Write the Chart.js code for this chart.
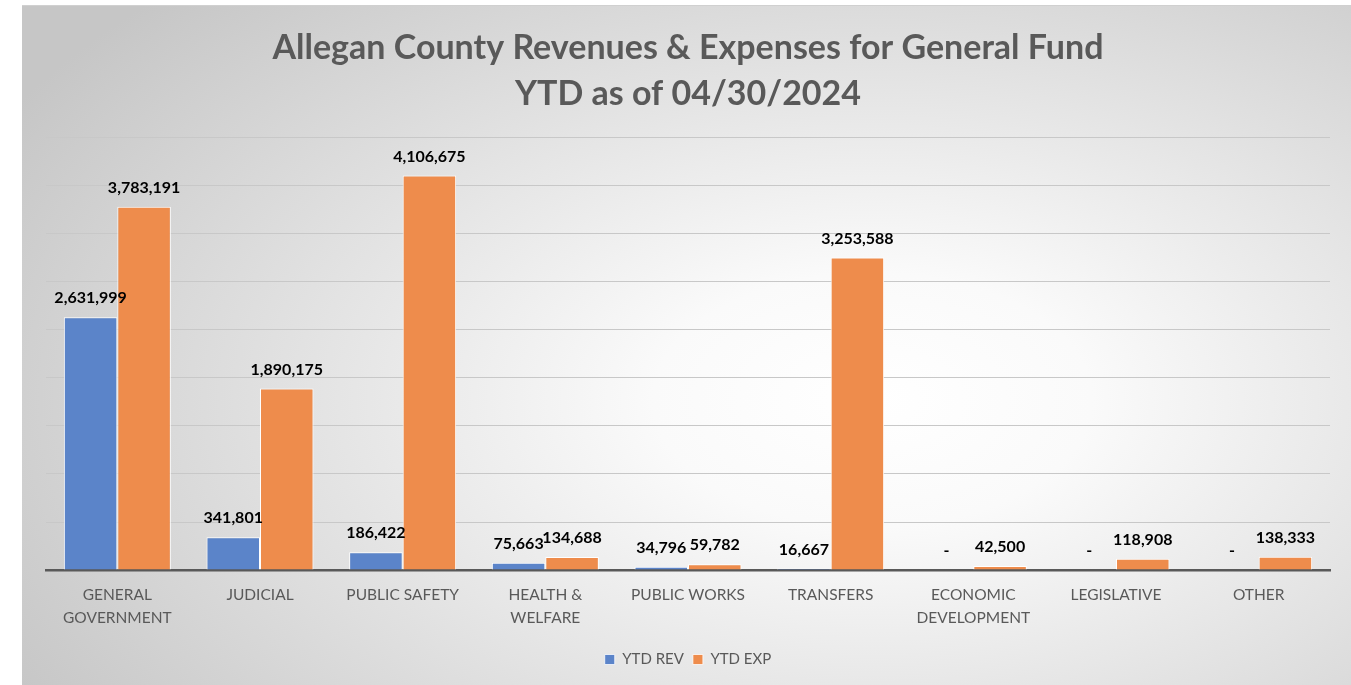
<!DOCTYPE html>
<html>
<head>
<meta charset="utf-8">
<script src="https://cdn.jsdelivr.net/npm/chart.js@4.4.1/dist/chart.umd.min.js"></script>
<style>
html,body{margin:0;padding:0;background:#ffffff;}
#wrap{position:absolute;left:22px;top:5px;width:1329px;height:680px;
background:radial-gradient(ellipse 75% 85% at 64% 58%, #ffffff 0%, #fafafa 22%, #e4e4e4 55%, #c6c6c6 100%);
border-top:1px solid #d0d0d0;box-sizing:border-box;}
canvas{display:block;}
</style>
</head>
<body>
<div id="wrap"><canvas id="c" width="1329" height="679"></canvas></div>
<script>
const titleLines = ['Allegan County Revenues & Expenses for General Fund', 'YTD as of 04/30/2024'];
const categories = [
  ['GENERAL','GOVERNMENT'], 'JUDICIAL', 'PUBLIC SAFETY', ['HEALTH &','WELFARE'],
  'PUBLIC WORKS', 'TRANSFERS', ['ECONOMIC','DEVELOPMENT'], 'LEGISLATIVE', 'OTHER'
];
const seriesNames = ['YTD REV', 'YTD EXP'];
const ytdRev = [2631999, 341801, 186422, 75663, 34796, 16667, 0, 0, 0];
const ytdExp = [3783191, 1890175, 4106675, 134688, 59782, 3253588, 42500, 118908, 138333];

const labelPlugin = {
  id: 'barLabels',
  afterDatasetsDraw(chart) {
    const ctx = chart.ctx;
    ctx.save();
    ctx.font = 'bold 16px Lato';
    ctx.fillStyle = '#000000';
    ctx.textAlign = 'center';
    ctx.textBaseline = 'bottom';
    chart.data.datasets.forEach((ds, di) => {
      const meta = chart.getDatasetMeta(di);
      meta.data.forEach((bar, i) => {
        const v = ds.data[i];
        const txt = v === 0 ? '-' : v.toLocaleString('en-US');
        ctx.fillText(txt, bar.x, bar.y - 11);
      });
    });
    ctx.restore();
  }
};

new Chart(document.getElementById('c'), {
  type: 'bar',
  data: {
    labels: categories,
    datasets: [
      { label: seriesNames[0], data: ytdRev, backgroundColor: '#5b84c9', borderColor: '#ffffff', borderWidth: {top:1,left:1,right:1,bottom:0}, categoryPercentage: 0.75, barPercentage: 1.0 },
      { label: seriesNames[1], data: ytdExp, backgroundColor: '#ee8c4c', borderColor: '#ffffff', borderWidth: {top:1,left:1,right:1,bottom:0}, categoryPercentage: 0.75, barPercentage: 1.0 }
    ]
  },
  options: {
    responsive: false,
    animation: false,
    layout: { padding: { left: 24, right: 21, top: 0, bottom: 8 } },
    plugins: {
      title: {
        display: true, text: titleLines, color: '#595959',
        font: { family: 'Lato', size: 34, weight: 'bold', lineHeight: 1.35 },
        padding: { top: 19, bottom: 21 }
      },
      legend: {
        position: 'bottom',
        labels: { color: '#595959', font: { family: 'Lato', size: 15 }, boxWidth: 10, boxHeight: 10, padding: 9 }
      },
      tooltip: { enabled: false }
    },
    scales: {
      x: {
        grid: { display: false, drawTicks: false },
        border: { display: true, color: '#595959', width: 2.5 },
        ticks: { color: '#595959', font: { family: 'Lato', size: 15.5, lineHeight: 1.45 }, maxRotation: 0, autoSkip: false, padding: 14 }
      },
      y: {
        min: 0, max: 4500000,
        grid: { color: '#c8c8c8', lineWidth: 1, drawTicks: false },
        border: { display: false },
        ticks: { display: false, stepSize: 500000 }
      }
    }
  },
  plugins: [labelPlugin]
});
</script>
</body>
</html>
